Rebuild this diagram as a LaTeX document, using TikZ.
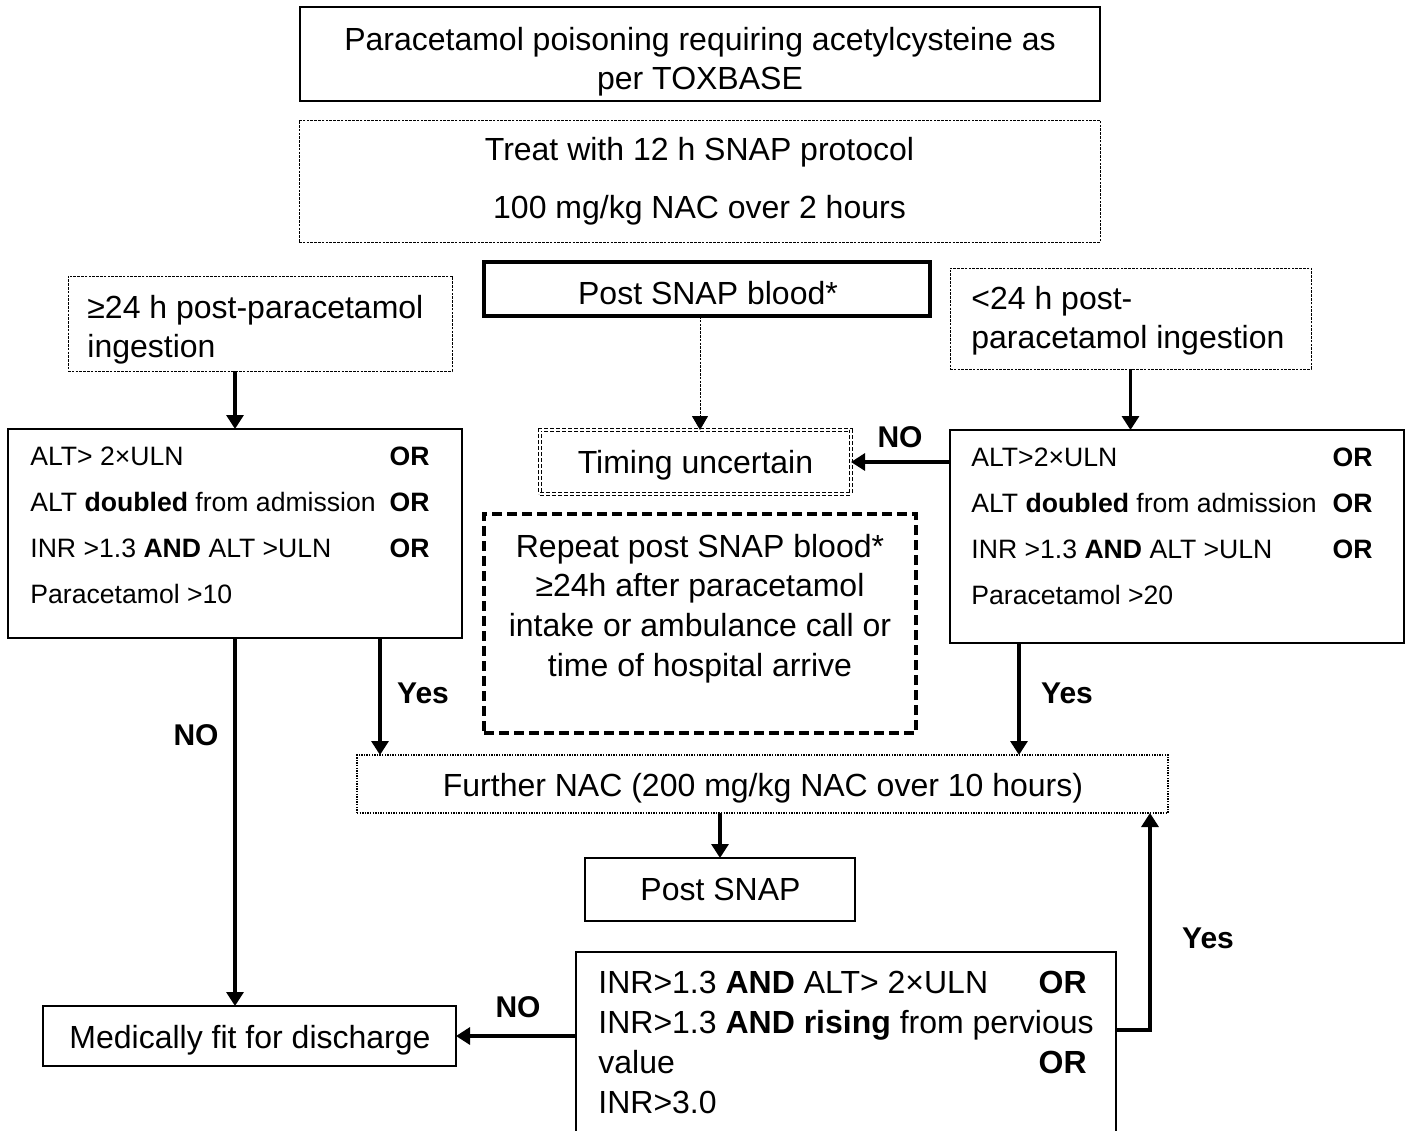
\documentclass[tikz,border=0pt]{standalone}
\usepackage{fontspec}
\setmainfont{Liberation Sans}
\usetikzlibrary{arrows.meta}
\newcommand\fbig{\fontsize{16}{19}\selectfont}
\newcommand\fsml{\fontsize{13.3}{16}\selectfont}
\newcommand\flab{\fontsize{15}{18}\selectfont\bfseries}
\begin{document}
\begin{tikzpicture}[x=0.5pt,y=-0.5pt,
  box/.style={draw, line width=1.2pt, inner sep=0pt, outer sep=0pt},
  thickbox/.style={draw, line width=2pt, inner sep=0pt, outer sep=0pt},
  fine/.style={draw, line width=0.5pt, dash pattern=on 1.3pt off 0.6pt, inner sep=0pt, outer sep=0pt},
  dotbox/.style={draw, line width=0.7pt, dash pattern=on 0.7pt off 0.6pt, inner sep=0pt, outer sep=0pt},
  dblbox/.style={draw, double, double distance=1.2pt, line width=0.5pt, dash pattern=on 2pt off 1pt, inner sep=0pt, outer sep=0pt},
  dashbox/.style={draw, line width=1.7pt, dash pattern=on 5pt off 2.5pt, inner sep=0pt, outer sep=0pt},
  big/.style={inner sep=0pt, font=\fbig},
  sml/.style={inner sep=0pt, font=\fsml},
  lab/.style={inner sep=0pt, font=\flab, anchor=base},
  arr/.style={line width=1.6pt, -{Triangle[length=7pt,width=8.5pt]}},
  thinarr/.style={line width=0.5pt, dash pattern=on 1.3pt off 0.6pt, -{Triangle[length=7pt,width=8pt]}},
]
\useasboundingbox (0,0) rectangle (1410,1131);
\fill[white] (0,0) rectangle (1410,1131);

% boxes
\node[box, minimum width=400pt, minimum height=47pt] (top) at (700,54) {};
\node[fine, minimum width=400.5pt, minimum height=61pt] (snap) at (699.5,181) {};
\node[thickbox, minimum width=223pt, minimum height=27pt] (psb) at (707,289) {};
\node[fine, minimum width=192pt, minimum height=47.5pt] (ge) at (260,323.5) {};
\node[fine, minimum width=180.5pt, minimum height=50.5pt] (lt) at (1130.5,318.5) {};
\node[box, minimum width=227pt, minimum height=104.5pt] (lc) at (235,533.5) {};
\node[box, minimum width=227pt, minimum height=106.5pt] (rc) at (1177,536.5) {};
\node[dblbox, minimum width=155.5pt, minimum height=32pt] (tu) at (695.5,462) {};
\node[dashbox, minimum width=216pt, minimum height=109.5pt] (rep) at (700,623.5) {};
\node[dotbox, minimum width=405.5pt, minimum height=29pt] (fn) at (762.5,784) {};
\node[box, minimum width=135pt, minimum height=31.5pt] (ps) at (720,889.5) {};
\node[box, minimum width=270pt, minimum height=94pt] (bb) at (846,1046) {};
\node[box, minimum width=206.5pt, minimum height=30pt] (mf) at (249.5,1036) {};

% texts
\node[big, anchor=base] (t1a) at (700,50) {Paracetamol poisoning requiring acetylcysteine as};
\node[big, anchor=base] (t1b) at (700,89) {per TOXBASE};
\node[big, anchor=base] (t2a) at (699.5,160) {Treat with 12 h SNAP protocol};
\node[big, anchor=base] (t2b) at (699.5,218) {100 mg/kg NAC over 2 hours};
\node[big, anchor=base] (t3) at (708,304) {Post SNAP blood*};
\node[big, anchor=base west] (t4a) at (87,318) {≥24 h post-paracetamol};
\node[big, anchor=base west] (t4b) at (87,357) {ingestion};
\node[big, anchor=base west] (t5a) at (971,309) {<24 h post-};
\node[big, anchor=base west] (t5b) at (971,348) {paracetamol ingestion};

\node[sml, anchor=base west] (l1) at (30,465) {ALT> 2×ULN};
\node[sml, anchor=base west] (l2) at (30,511) {ALT \textbf{doubled} from admission};
\node[sml, anchor=base west] (l3) at (30,557) {INR >1.3 \textbf{AND} ALT >ULN};
\node[sml, anchor=base west] (l4) at (30,603) {Paracetamol >10};
\node[sml, anchor=base east, font=\fsml\bfseries] (lo1) at (430,465) {OR};
\node[sml, anchor=base east, font=\fsml\bfseries] (lo2) at (430,511) {OR};
\node[sml, anchor=base east, font=\fsml\bfseries] (lo3) at (430,557) {OR};

\node[sml, anchor=base west] (r1) at (971,466) {ALT>2×ULN};
\node[sml, anchor=base west] (r2) at (971,512) {ALT \textbf{doubled} from admission};
\node[sml, anchor=base west] (r3) at (971,558) {INR >1.3 \textbf{AND} ALT >ULN};
\node[sml, anchor=base west] (r4) at (971,604) {Paracetamol >20};
\node[sml, anchor=base east, font=\fsml\bfseries] (ro1) at (1373,466) {OR};
\node[sml, anchor=base east, font=\fsml\bfseries] (ro2) at (1373,512) {OR};
\node[sml, anchor=base east, font=\fsml\bfseries] (ro3) at (1373,558) {OR};

\node[big, anchor=base] (t6) at (695.5,473) {Timing uncertain};
\node[big, anchor=base] (t7a) at (700,557) {Repeat post SNAP blood*};
\node[big, anchor=base] (t7b) at (700,596) {≥24h after paracetamol};
\node[big, anchor=base] (t7c) at (700,636) {intake or ambulance call or};
\node[big, anchor=base] (t7d) at (700,676) {time of hospital arrive};
\node[big, anchor=base] (t8) at (763,796) {Further NAC (200 mg/kg NAC over 10 hours)};
\node[big, anchor=base] (t9) at (720.5,900) {Post SNAP};
\node[big, anchor=base] (t10) at (250,1048) {Medically fit for discharge};

\node[big, anchor=base west] (b1) at (598,993) {INR>1.3 \textbf{AND} ALT> 2×ULN};
\node[big, anchor=base west] (b2) at (598,1033) {INR>1.3 \textbf{AND rising} from pervious};
\node[big, anchor=base west] (b3) at (598,1073) {value};
\node[big, anchor=base west] (b4) at (598,1113) {INR>3.0};
\node[big, anchor=base east, font=\fbig\bfseries] (bo1) at (1087,993) {OR};
\node[big, anchor=base east, font=\fbig\bfseries] (bo3) at (1087,1073) {OR};

% labels
\node[lab] (no1) at (900,447) {NO};
\node[lab] (yes1) at (423,703) {Yes};
\node[lab] (no2) at (196,745) {NO};
\node[lab] (yes2) at (1067,703) {Yes};
\node[lab] (yes3) at (1208,948) {Yes};
\node[lab] (no3) at (518,1017) {NO};

% connectors
\draw[arr] (ge.south -| lc.north) -- (lc.north);
\draw[arr] (lt.south) -- (lt.south |- rc.north);
\coordinate (psbo) at ([xshift=-3.5pt]psb.south);
\draw[thinarr] (psbo) -- (psbo |- tu.north);
\draw[arr] (rc.west |- tu.east) -- (tu.east);
\coordinate (lcy) at ([xshift=72.5pt]lc.south);
\draw[arr] (lcy) -- (lcy |- fn.north);
\draw[arr] (lc.south) -- (lc.south |- mf.north);
\coordinate (rcy) at ([xshift=-79pt]rc.south);
\draw[arr] (rcy) -- (rcy |- fn.north);
\draw[arr] (ps.north |- fn.south) -- (ps.north);
\coordinate (bbe) at ([yshift=8pt]bb.east);
\coordinate (fny) at ([xshift=193.75pt]fn.south);
\draw[arr] (bbe) -| (fny);
\draw[arr] (mf.east -| bb.west) -- (mf.east);
\end{tikzpicture}
\end{document}
